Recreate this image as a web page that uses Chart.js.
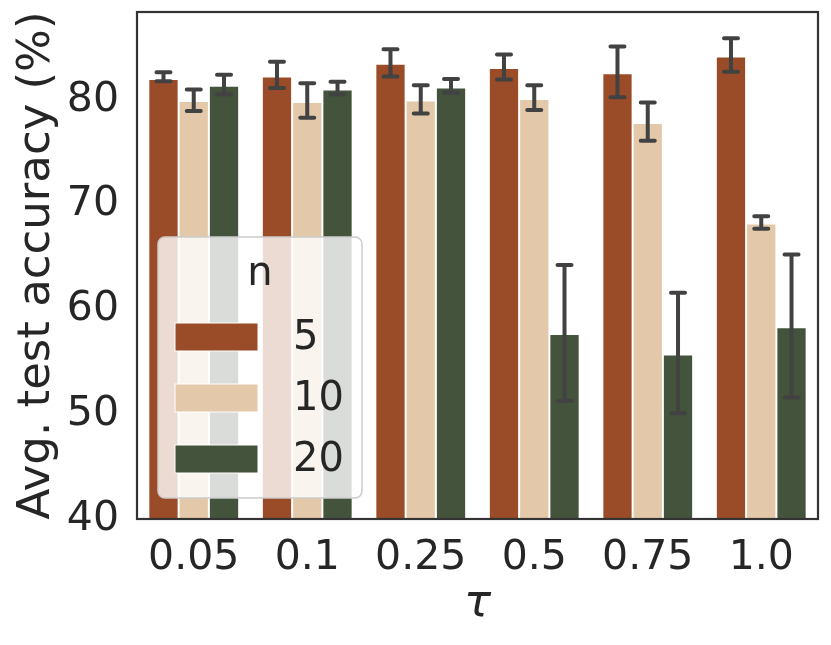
<!DOCTYPE html>
<html>
<head>
<meta charset="utf-8">
<script src="https://cdn.jsdelivr.net/npm/chart.js@4"></script>
<style>
  html, body { margin: 0; padding: 0; background: #fff; }
  #wrap { width: 831px; height: 645px; }
</style>
</head>
<body>
<div id="wrap"><canvas id="accChart" width="831" height="645"></canvas></div>
<script>
// tau values on the x axis
const tauLabels = ['0.05', '0.1', '0.25', '0.5', '0.75', '1.0'];
const nLabels = ['5', '10', '20'];

// mean accuracy per n
const acc5  = [82.0, 82.25, 83.45, 83.05, 82.55, 84.15];
const acc10 = [79.9, 79.8, 79.95, 80.1, 77.8, 68.2];
const acc20 = [81.35, 81.0, 81.2, 57.65, 55.7, 58.3];

// error bar ends (low / high)
const lo5  = [81.8, 81.15, 82.25, 81.95, 80.25, 82.7];
const hi5  = [82.65, 83.65, 84.85, 84.35, 85.1, 85.9];
const lo10 = [78.95, 78.3, 78.7, 79.05, 76.1, 67.7];
const hi10 = [81.0, 81.6, 81.4, 81.4, 79.75, 68.9];
const lo20 = [80.55, 80.55, 80.7, 51.3, 50.1, 51.6];
const hi20 = [82.4, 81.75, 82.0, 64.25, 61.6, 65.25];

const yTicks = [40, 50, 60, 70, 80];

const colors = ['#9a4b27', '#e3c9a9', '#43533c'];
const errLo = [lo5, lo10, lo20];
const errHi = [hi5, hi10, hi20];

const FONT = "'DejaVu Sans', sans-serif";
const TXT = '#262626';

// error bars on top of each bar
const errorBars = {
    id: 'errorBars',
    afterDatasetsDraw(chart) {
        const ctx = chart.ctx;
        const y = chart.scales.y;
        ctx.save();
        ctx.strokeStyle = '#424242';
        ctx.lineWidth = 4;
        ctx.lineCap = 'round';
        chart.data.datasets.forEach((ds, di) => {
            const meta = chart.getDatasetMeta(di);
            meta.data.forEach((bar, i) => {
                const yl = y.getPixelForValue(errLo[di][i]);
                const yh = y.getPixelForValue(errHi[di][i]);
                ctx.beginPath();
                ctx.moveTo(bar.x, yl);
                ctx.lineTo(bar.x, yh);
                ctx.moveTo(bar.x - 7, yl);
                ctx.lineTo(bar.x + 7, yl);
                ctx.moveTo(bar.x - 7, yh);
                ctx.lineTo(bar.x + 7, yh);
                ctx.stroke();
            });
        });
        ctx.restore();
    }
};

// frame around the plot and the legend inside it
const frameAndLegend = {
    id: 'frameAndLegend',
    afterDraw(chart) {
        const ctx = chart.ctx;
        const a = chart.chartArea;
        ctx.save();
        ctx.strokeStyle = '#333333';
        ctx.lineWidth = 2.2;
        ctx.strokeRect(a.left, a.top, a.right - a.left, a.bottom - a.top);

        // legend box
        const bx = a.left + 21, by = a.top + 225, bw = 204, bh = 261;
        ctx.beginPath();
        ctx.roundRect(bx, by, bw, bh, 7);
        ctx.fillStyle = 'rgba(255,255,255,0.8)';
        ctx.fill();
        ctx.strokeStyle = '#cccccc';
        ctx.lineWidth = 1.5;
        ctx.stroke();

        ctx.fillStyle = TXT;
        ctx.font = '40px ' + FONT;
        ctx.textAlign = 'center';
        ctx.textBaseline = 'middle';
        ctx.fillText('n', bx + 102, by + 38);

        ctx.textAlign = 'left';
        chart.data.datasets.forEach((ds, i) => {
            const cy = by + 100 + i * 61;
            ctx.fillStyle = ds.backgroundColor;
            ctx.fillRect(bx + 17, cy - 14, 83, 28);
            ctx.strokeStyle = '#ffffff';
            ctx.lineWidth = 1;
            ctx.strokeRect(bx + 17, cy - 14, 83, 28);
            ctx.fillStyle = TXT;
            ctx.fillText(ds.label, bx + 135, cy + 2);
        });
        ctx.restore();
    }
};

new Chart(document.getElementById('accChart'), {
    type: 'bar',
    data: {
        labels: tauLabels,
        datasets: [
            { label: nLabels[0], data: acc5, backgroundColor: colors[0] },
            { label: nLabels[1], data: acc10, backgroundColor: colors[1] },
            { label: nLabels[2], data: acc20, backgroundColor: colors[2] }
        ].map(d => Object.assign(d, {
            borderColor: '#ffffff',
            borderWidth: 1,
            categoryPercentage: 0.8,
            barPercentage: 1.0
        }))
    },
    options: {
        responsive: false,
        animation: false,
        layout: { padding: { top: 12, right: 13, bottom: 0, left: 0 } },
        plugins: {
            legend: { display: false },
            tooltip: { enabled: false }
        },
        scales: {
            x: {
                grid: { display: false, drawTicks: false },
                border: { display: false },
                ticks: { color: TXT, font: { family: FONT, size: 41 }, padding: 15 },
                title: {
                    display: true, text: 'τ', color: TXT,
                    font: { family: FONT, size: 45, style: 'italic' },
                    padding: { top: 0, bottom: 14 }
                },
                afterFit(scale) {
                    scale.height = 126;
                    scale.paddingLeft = 0;
                    scale.paddingRight = 0;
                }
            },
            y: {
                min: 40,
                max: 88.4,
                grid: { display: false, drawTicks: false },
                border: { display: false },
                ticks: { color: TXT, font: { family: FONT, size: 41 }, padding: 18 },
                afterBuildTicks(scale) { scale.ticks = yTicks.map(v => ({ value: v })); },
                title: {
                    display: true, text: 'Avg. test accuracy (%)', color: TXT,
                    font: { family: FONT, size: 45 },
                    padding: { top: 10, bottom: 0 }
                },
                afterFit(scale) {
                    scale.width = 137;
                    scale.paddingTop = 0;
                    scale.paddingBottom = 0;
                }
            }
        }
    },
    plugins: [errorBars, frameAndLegend]
});
</script>
</body>
</html>
